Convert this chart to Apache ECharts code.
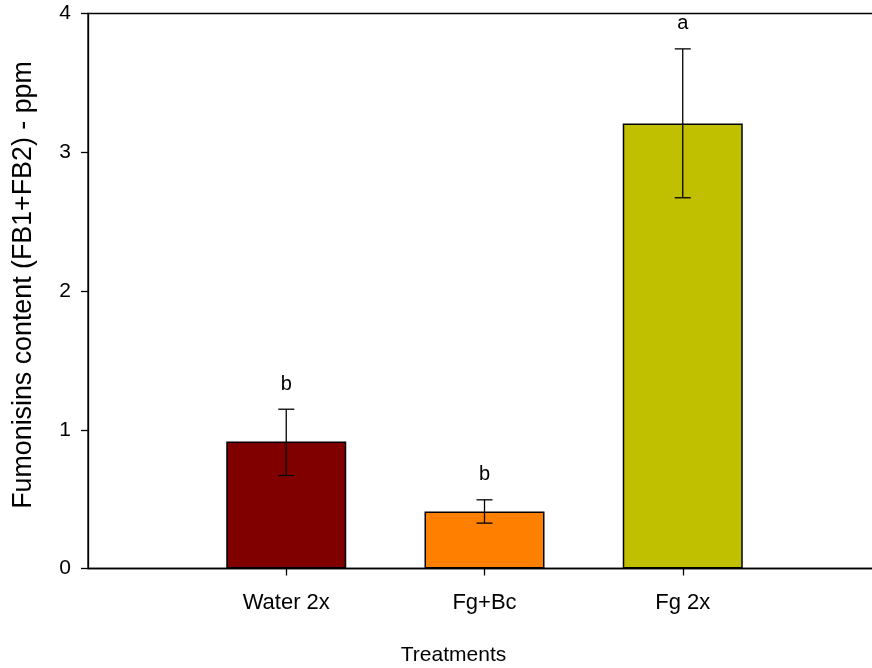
<!DOCTYPE html>
<html>
<head>
<meta charset="utf-8">
<script src="https://cdn.jsdelivr.net/npm/echarts@6/dist/echarts.min.js"></script>
<style>html,body{margin:0;padding:0;background:#fff;}#c{width:872px;height:668px;}</style>
</head>
<body>
<div id="c"></div>
<script>
var categories = ["Water 2x", "Fg+Bc", "Fg 2x"];
var positions = [1, 2, 3];
var means = [0.915, 0.41, 3.208];
var errLow = [0.670, 0.327, 2.672];
var errHigh = [1.148, 0.495, 3.745];
var letters = ["b", "b", "a"];
var colors = ["#800000", "#FF8000", "#C0C000"];
var yTicks = [0, 1, 2, 3, 4];

var FONT = "Liberation Sans, Arial, sans-serif";
var chart = echarts.init(document.getElementById('c'));

var barData = means.map(function (v, i) {
  return { value: [positions[i], v], itemStyle: { color: colors[i] } };
});
var errData = means.map(function (v, i) {
  return [positions[i], errLow[i], errHigh[i], i];
});

chart.setOption({
  animation: false,
  grid: { left: 88, width: 793, top: 13.5, height: 555, show: true, borderColor: '#000', borderWidth: 1.3,
    containLabel: false, outerBoundsMode: 'none' },
  xAxis: {
    type: 'value', min: 0, max: 4, interval: 1,
    name: 'Treatments', nameLocation: 'middle', nameGap: 76,
    nameTextStyle: { color: '#000', fontSize: 21, fontFamily: FONT, padding: [0, 62, 0, 0] },
    axisLine: { show: true, lineStyle: { color: '#000', width: 1.3 } },
    axisTick: { show: true, length: 7, lineStyle: { color: '#000', width: 1.3 }, customValues: positions },
    axisLabel: {
      color: '#000', fontSize: 22, fontFamily: FONT, margin: 23,
      customValues: positions,
      formatter: function (v) { var i = positions.indexOf(v); return i >= 0 ? categories[i] : ''; }
    },
    splitLine: { show: false }
  },
  yAxis: {
    type: 'value', min: 0, max: 4, interval: 1,
    name: 'Fumonisins content (FB1+FB2) - ppm', nameLocation: 'middle', nameGap: 51,
    nameTextStyle: { color: '#000', fontSize: 26.8, fontFamily: FONT, padding: [0, 0, 0, 12] },
    axisLine: { show: true, lineStyle: { color: '#000', width: 1.3 } },
    axisTick: { show: true, length: 7, lineStyle: { color: '#000', width: 1.3 } },
    axisLabel: { color: '#000', fontSize: 21, fontFamily: FONT, margin: 17,
      customValues: yTicks },
    splitLine: { show: false }
  },
  series: [
    {
      type: 'bar', data: barData, barWidth: 120,
      itemStyle: { borderColor: '#000', borderWidth: 1.5 }
    },
    {
      type: 'custom', data: errData, z: 10,
      renderItem: function (params, api) {
        var x = api.value(0);
        var lo = api.coord([x, api.value(1)]);
        var hi = api.coord([x, api.value(2)]);
        var idx = api.value(3);
        var cap = 8;
        var st = { stroke: '#000', lineWidth: 1.3 };
        return {
          type: 'group',
          children: [
            { type: 'line', shape: { x1: lo[0], y1: lo[1], x2: hi[0], y2: hi[1] }, style: st },
            { type: 'line', shape: { x1: lo[0] - cap, y1: lo[1], x2: lo[0] + cap, y2: lo[1] }, style: st },
            { type: 'line', shape: { x1: hi[0] - cap, y1: hi[1], x2: hi[0] + cap, y2: hi[1] }, style: st },
            { type: 'text', x: hi[0], y: hi[1] - 25,
              style: { text: letters[idx], fill: '#000', fontSize: 20, fontFamily: FONT, align: 'center', verticalAlign: 'middle' } }
          ]
        };
      }
    }
  ]
});
</script>
</body>
</html>
